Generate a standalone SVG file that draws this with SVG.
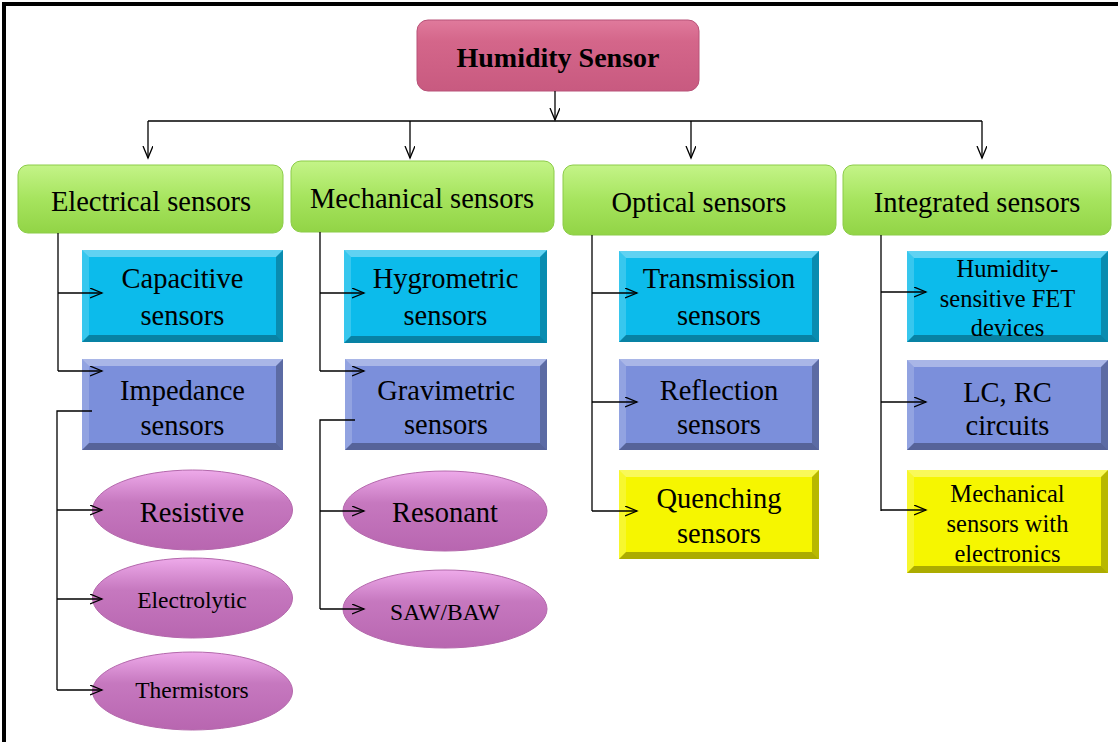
<svg xmlns="http://www.w3.org/2000/svg" width="1118" height="742" viewBox="0 0 1118 742">
<defs>
<linearGradient id="gGreen" x1="0" y1="0" x2="0" y2="1">
<stop offset="0" stop-color="#c4f488"/><stop offset="0.5" stop-color="#a6e45e"/><stop offset="1" stop-color="#92d446"/>
</linearGradient>
<linearGradient id="gPink" x1="0" y1="0" x2="0" y2="1">
<stop offset="0" stop-color="#e07a9c"/><stop offset="0.3" stop-color="#d4668a"/><stop offset="1" stop-color="#c85a80"/>
</linearGradient>
<linearGradient id="gOval" x1="0" y1="0" x2="0" y2="1">
<stop offset="0" stop-color="#eeaaea"/><stop offset="0.4" stop-color="#c678bf"/><stop offset="1" stop-color="#b866b0"/>
</linearGradient>
<marker id="arr" markerUnits="userSpaceOnUse" markerWidth="14" markerHeight="12" refX="12" refY="5" orient="auto">
<path d="M0,0 L12,5 L0,10" fill="none" stroke="#000" stroke-width="1.3"/>
</marker>
</defs>
<style>
.t{font-family:"Liberation Serif","Times New Roman",serif;fill:#000;text-anchor:middle}
.l1{font-size:28.5px}
.l2{font-size:28.5px}
.sm{font-size:24.5px}
.xs{font-size:23.5px}
.green{fill:url(#gGreen);stroke:#8ccc48;stroke-width:1}
.cyan{fill:#0cbbeb}
.peri{fill:#7b8fdb}
.yel{fill:#f6f600}
.bt{fill:#fff;opacity:0.35}
.bl{fill:#fff;opacity:0.18}
.br{fill:#000;opacity:0.25}
.bb{fill:#000;opacity:0.3}
.oval{fill:url(#gOval);stroke:#b468ac;stroke-width:1}
.c{fill:none;stroke:#000;stroke-width:1.3}
</style>
<rect x="0" y="0" width="1118" height="742" fill="#fff"/>
<path d="M4,742 V4 H1118" fill="none" stroke="#000" stroke-width="4"/>

<g id="root">
<rect x="417" y="20" width="282" height="71" rx="11" fill="url(#gPink)" stroke="#b85278" stroke-width="1"/>
<text class="t" x="558" y="67" font-size="28" font-weight="bold">Humidity Sensor</text>
</g>

<g id="electrical">
<rect class="green" x="18" y="165" width="265" height="68" rx="10"/>
<text class="t l1" x="151" y="211">Electrical sensors</text>
</g>
<g id="mechanical">
<rect class="green" x="291" y="161" width="263" height="71" rx="10"/>
<text class="t l1" x="422" y="208">Mechanical sensors</text>
</g>
<g id="optical">
<rect class="green" x="563" y="165" width="273" height="70" rx="10"/>
<text class="t l1" x="699" y="212">Optical sensors</text>
</g>
<g id="integrated">
<rect class="green" x="843" y="165" width="268" height="70" rx="10"/>
<text class="t l1" x="977" y="212">Integrated sensors</text>
</g>

<g id="capacitive">
<rect class="cyan" x="82" y="250" width="201" height="92"/>
<polygon class="bt" points="82,250 283,250 276,257 89,257"/>
<polygon class="bl" points="82,250 89,257 89,335 82,342"/>
<polygon class="br" points="283,250 283,342 276,335 276,257"/>
<polygon class="bb" points="82,342 283,342 276,335 89,335"/>
<text class="t l2" x="182.5" y="288">Capacitive</text>
<text class="t l2" x="182.5" y="325">sensors</text>
</g>
<g id="impedance">
<rect class="peri" x="82" y="359" width="201" height="91"/>
<polygon class="bt" points="82,359 283,359 276,366 89,366"/>
<polygon class="bl" points="82,359 89,366 89,443 82,450"/>
<polygon class="br" points="283,359 283,450 276,443 276,366"/>
<polygon class="bb" points="82,450 283,450 276,443 89,443"/>
<text class="t l2" x="182.5" y="400">Impedance</text>
<text class="t l2" x="182.5" y="435">sensors</text>
</g>
<g id="resistive">
<ellipse class="oval" cx="192.5" cy="510" rx="100" ry="40"/>
<text class="t l2" x="192" y="522">Resistive</text>
</g>
<g id="electrolytic">
<ellipse class="oval" cx="192.5" cy="598" rx="100" ry="40"/>
<text class="t xs" x="192" y="608">Electrolytic</text>
</g>
<g id="thermistors">
<ellipse class="oval" cx="192.5" cy="691" rx="100" ry="39"/>
<text class="t xs" x="192" y="698">Thermistors</text>
</g>

<g id="hygrometric">
<rect class="cyan" x="344" y="250" width="203" height="93"/>
<polygon class="bt" points="344,250 547,250 540,257 351,257"/>
<polygon class="bl" points="344,250 351,257 351,336 344,343"/>
<polygon class="br" points="547,250 547,343 540,336 540,257"/>
<polygon class="bb" points="344,343 547,343 540,336 351,336"/>
<text class="t l2" x="445.5" y="288">Hygrometric</text>
<text class="t l2" x="445.5" y="325">sensors</text>
</g>
<g id="gravimetric">
<rect class="peri" x="345" y="359" width="202" height="91"/>
<polygon class="bt" points="345,359 547,359 540,366 352,366"/>
<polygon class="bl" points="345,359 352,366 352,443 345,450"/>
<polygon class="br" points="547,359 547,450 540,443 540,366"/>
<polygon class="bb" points="345,450 547,450 540,443 352,443"/>
<text class="t l2" x="446" y="400">Gravimetric</text>
<text class="t l2" x="446" y="434">sensors</text>
</g>
<g id="resonant">
<ellipse class="oval" cx="445" cy="511" rx="102" ry="40"/>
<text class="t l2" x="445" y="522">Resonant</text>
</g>
<g id="sawbaw">
<ellipse class="oval" cx="445" cy="609" rx="102" ry="39"/>
<text class="t xs" x="445" y="620">SAW/BAW</text>
</g>

<g id="transmission">
<rect class="cyan" x="619" y="251" width="200" height="91"/>
<polygon class="bt" points="619,251 819,251 812,258 626,258"/>
<polygon class="bl" points="619,251 626,258 626,335 619,342"/>
<polygon class="br" points="819,251 819,342 812,335 812,258"/>
<polygon class="bb" points="619,342 819,342 812,335 626,335"/>
<text class="t l2" x="719" y="288">Transmission</text>
<text class="t l2" x="719" y="325">sensors</text>
</g>
<g id="reflection">
<rect class="peri" x="619" y="359" width="200" height="91"/>
<polygon class="bt" points="619,359 819,359 812,366 626,366"/>
<polygon class="bl" points="619,359 626,366 626,443 619,450"/>
<polygon class="br" points="819,359 819,450 812,443 812,366"/>
<polygon class="bb" points="619,450 819,450 812,443 626,443"/>
<text class="t l2" x="719" y="400">Reflection</text>
<text class="t l2" x="719" y="434">sensors</text>
</g>
<g id="quenching">
<rect class="yel" x="619" y="470" width="200" height="89"/>
<polygon class="bt" points="619,470 819,470 812,477 626,477"/>
<polygon class="bl" points="619,470 626,477 626,552 619,559"/>
<polygon class="br" points="819,470 819,559 812,552 812,477"/>
<polygon class="bb" points="619,559 819,559 812,552 626,552"/>
<text class="t l2" x="719" y="508">Quenching</text>
<text class="t l2" x="719" y="543">sensors</text>
</g>

<g id="fet">
<rect class="cyan" x="907" y="251" width="201" height="91"/>
<polygon class="bt" points="907,251 1108,251 1101,258 914,258"/>
<polygon class="bl" points="907,251 914,258 914,335 907,342"/>
<polygon class="br" points="1108,251 1108,342 1101,335 1101,258"/>
<polygon class="bb" points="907,342 1108,342 1101,335 914,335"/>
<text class="t sm" x="1007.5" y="277">Humidity-</text>
<text class="t sm" x="1007.5" y="307">sensitive FET</text>
<text class="t sm" x="1007.5" y="336">devices</text>
</g>
<g id="lcrc">
<rect class="peri" x="907" y="360" width="201" height="90"/>
<polygon class="bt" points="907,360 1108,360 1101,367 914,367"/>
<polygon class="bl" points="907,360 914,367 914,443 907,450"/>
<polygon class="br" points="1108,360 1108,450 1101,443 1101,367"/>
<polygon class="bb" points="907,450 1108,450 1101,443 914,443"/>
<text class="t l2" x="1007.5" y="402">LC, RC</text>
<text class="t l2" x="1007.5" y="435">circuits</text>
</g>
<g id="mechelec">
<rect class="yel" x="907" y="470" width="201" height="103"/>
<polygon class="bt" points="907,470 1108,470 1101,477 914,477"/>
<polygon class="bl" points="907,470 914,477 914,566 907,573"/>
<polygon class="br" points="1108,470 1108,573 1101,566 1101,477"/>
<polygon class="bb" points="907,573 1108,573 1101,566 914,566"/>
<text class="t sm" x="1007.5" y="502">Mechanical</text>
<text class="t sm" x="1007.5" y="532">sensors with</text>
<text class="t sm" x="1007.5" y="562">electronics</text>
</g>

<g id="connectors">
<path class="c" d="M555,91 V120" marker-end="url(#arr)"/>
<path class="c" d="M148,121 H982"/>
<path class="c" d="M148,121 V158" marker-end="url(#arr)"/>
<path class="c" d="M410,121 V158" marker-end="url(#arr)"/>
<path class="c" d="M691,121 V158" marker-end="url(#arr)"/>
<path class="c" d="M982,121 V158" marker-end="url(#arr)"/>
<path class="c" d="M58,233 V371"/>
<path class="c" d="M58,293 H102" marker-end="url(#arr)"/>
<path class="c" d="M58,371 H102" marker-end="url(#arr)"/>
<path class="c" d="M92,411 H57 V690"/>
<path class="c" d="M57,510 H102" marker-end="url(#arr)"/>
<path class="c" d="M57,599 H102" marker-end="url(#arr)"/>
<path class="c" d="M57,690 H102" marker-end="url(#arr)"/>
<path class="c" d="M320,232 V371"/>
<path class="c" d="M320,293 H364" marker-end="url(#arr)"/>
<path class="c" d="M320,371 H364" marker-end="url(#arr)"/>
<path class="c" d="M355,420 H320 V609"/>
<path class="c" d="M320,511 H364" marker-end="url(#arr)"/>
<path class="c" d="M320,609 H364" marker-end="url(#arr)"/>
<path class="c" d="M592,235 V511"/>
<path class="c" d="M592,293 H637" marker-end="url(#arr)"/>
<path class="c" d="M592,402 H637" marker-end="url(#arr)"/>
<path class="c" d="M592,511 H637" marker-end="url(#arr)"/>
<path class="c" d="M881,235 V511"/>
<path class="c" d="M881,292 H926" marker-end="url(#arr)"/>
<path class="c" d="M881,402 H926" marker-end="url(#arr)"/>
<path class="c" d="M881,510 H926" marker-end="url(#arr)"/>
</g>
</svg>
